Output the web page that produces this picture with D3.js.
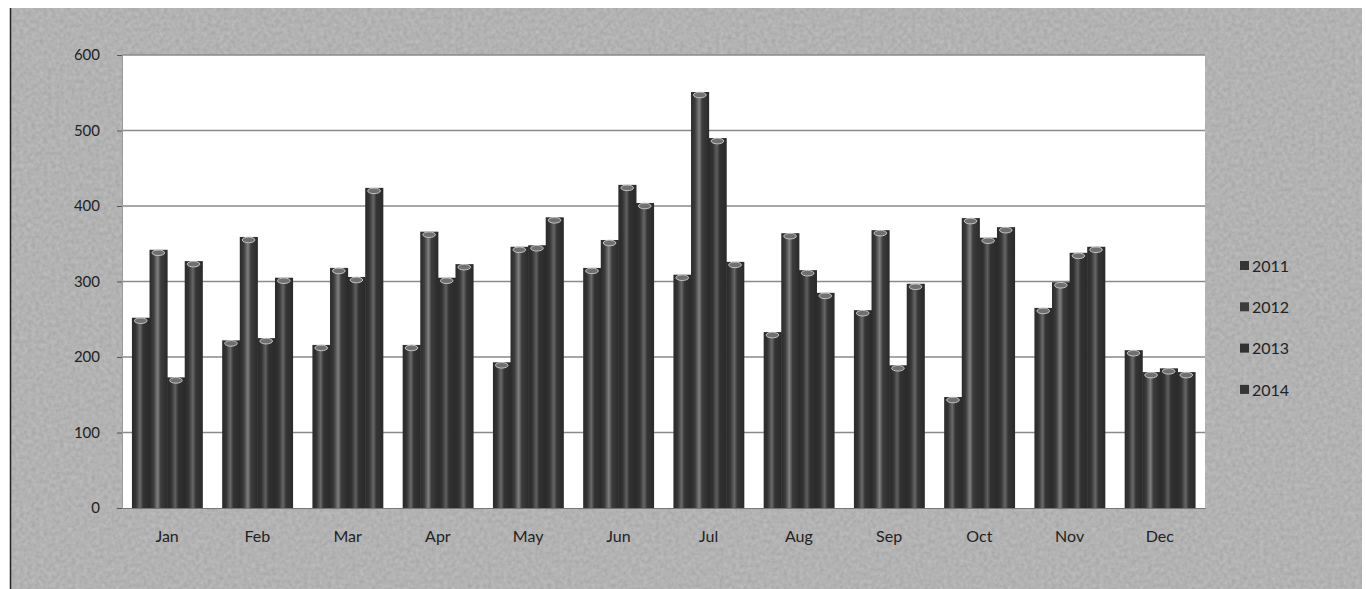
<!DOCTYPE html>
<html><head><meta charset="utf-8">
<script src="https://cdn.jsdelivr.net/npm/d3@7"></script>
<style>
html,body{margin:0;padding:0;background:#fff;}
svg{display:block;}
text{font-family:Lato,"Open Sans",sans-serif;fill:#1e1e1e;}
</style></head>
<body>
<svg id="chart" width="1366" height="589"></svg>
<script>
const months = ["Jan","Feb","Mar","Apr","May","Jun","Jul","Aug","Sep","Oct","Nov","Dec"];
const seriesNames = ["2011","2012","2013","2014"];
const v2011 = [252,222,216,216,193,318,309,233,262,147,265,209];
const v2012 = [342,359,318,366,346,355,551,364,368,384,299,180];
const v2013 = [173,225,306,305,348,428,490,315,189,358,338,185];
const v2014 = [327,305,424,323,385,404,326,285,297,372,346,180];
const yTicks = [0,100,200,300,400,500,600];
const seriesValues = [v2011,v2012,v2013,v2014];

(function(){
const svg = d3.select("#chart");
const defs = svg.append("defs");

// paper noise
const f = defs.append("filter").attr("id","noise").attr("x",0).attr("y",0).attr("width","100%").attr("height","100%");
f.append("feTurbulence").attr("type","fractalNoise").attr("baseFrequency","0.25").attr("numOctaves",2).attr("seed",5).attr("result","t");
f.append("feColorMatrix").attr("in","t").attr("type","matrix")
  .attr("values","0 0 0 0 0.58  0 0 0 0 0.58  0 0 0 0 0.58  0 0 0 -1.1 1.0").attr("result","c");
f.append("feComposite").attr("in","c").attr("in2","SourceGraphic").attr("operator","in");

const grads = [["#343434","#6a6a6a"],["#3c3c3c","#808080"],["#313131","#5f5f5f"],["#353535","#666666"]];
grads.forEach((g,i)=>{
  const lg = defs.append("linearGradient").attr("id","bg"+i).attr("x1","0").attr("x2","1").attr("y1","0").attr("y2","0");
  lg.append("stop").attr("offset","0").attr("stop-color","#2a2a2a");
  lg.append("stop").attr("offset","0.22").attr("stop-color",g[0]);
  lg.append("stop").attr("offset","0.45").attr("stop-color",g[1]);
  lg.append("stop").attr("offset","0.62").attr("stop-color",g[0]);
  lg.append("stop").attr("offset","1").attr("stop-color","#2a2a2a");
});

// background panel
svg.append("rect").attr("x",10).attr("y",8).attr("width",1352).attr("height",581).attr("fill","#a6a6a6");
svg.append("rect").attr("x",10).attr("y",8).attr("width",1352).attr("height",581).attr("fill","#a6a6a6").attr("filter","url(#noise)").attr("opacity",0.8);
svg.append("line").attr("x1",10.5).attr("x2",10.5).attr("y1",8).attr("y2",589).attr("stroke","#222").attr("stroke-width",1.5);

const pLeft=122, pRight=1205, pTop=55, pBottom=508;
const x0 = d3.scaleBand().domain(months).range([pLeft,pRight]).paddingInner(0.22).paddingOuter(0.11);
const x1 = d3.scaleBand().domain(seriesNames).range([0,x0.bandwidth()]);
const y = d3.scaleLinear().domain([0,600]).range([pBottom,pTop]);

// plot area
svg.append("rect").attr("x",pLeft).attr("y",pTop).attr("width",pRight-pLeft).attr("height",pBottom-pTop).attr("fill","#fff");

// grid
svg.append("g").selectAll("line").data(yTicks.filter(d=>d>0)).join("line")
  .attr("x1",pLeft).attr("x2",pRight).attr("y1",d=>y(d)).attr("y2",d=>y(d))
  .attr("stroke","#8a8a8a").attr("stroke-width",1.4);

// y axis
const ya = svg.append("g").attr("transform",`translate(${pLeft},0)`)
  .call(d3.axisLeft(y).tickValues(yTicks).tickSize(5).tickPadding(17));
ya.select(".domain").attr("stroke","#999");
ya.selectAll(".tick line").attr("stroke","#555");
ya.selectAll("text").style("font-size","15px").style("fill","#222");

// bars
const groups = svg.append("g").selectAll("g").data(months).join("g")
  .attr("transform",d=>`translate(${x0(d)},0)`);
groups.each(function(m,mi){
  const g = d3.select(this);
  const data = seriesNames.map((s,si)=>({s,si,v:seriesValues[si][mi]}));
  g.selectAll("rect").data(data).join("rect")
    .attr("x",d=>x1(d.s)).attr("width",x1.bandwidth()+0.5)
    .attr("y",d=>y(d.v)).attr("height",d=>pBottom-y(d.v))
    .attr("fill",d=>`url(#bg${d.si})`);
  g.selectAll("ellipse").data(data).join("ellipse")
    .attr("cx",d=>x1(d.s)+x1.bandwidth()/2).attr("cy",d=>y(d.v)+3)
    .attr("rx",x1.bandwidth()/2-2.5).attr("ry",2.8)
    .attr("fill","#707070").attr("stroke","#c4c4c4").attr("stroke-width",1);
});

// x axis
const xa = svg.append("g").attr("transform",`translate(0,${pBottom})`)
  .call(d3.axisBottom(x0).tickSize(0).tickPadding(23));
xa.select(".domain").attr("stroke","#777");
xa.selectAll("text").style("font-size","16px").style("fill","#222");

// legend
const leg = svg.append("g").selectAll("g").data(seriesNames).join("g")
  .attr("transform",(d,i)=>`translate(1240,${266+i*41.3})`);
leg.append("rect").attr("x",0).attr("y",-5).attr("width",9).attr("height",9)
  .attr("fill",(d,i)=>grads[i][0]);
leg.append("text").attr("x",12).attr("y",0).attr("dy","0.35em")
  .style("font-size","16px").style("fill","#222").text(d=>d);
})();
</script>
</body></html>
